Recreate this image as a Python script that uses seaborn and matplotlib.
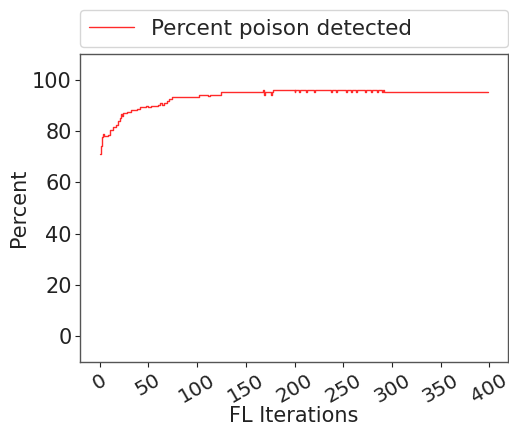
import matplotlib
matplotlib.use("Agg")
import matplotlib.pyplot as plt
import seaborn as sns
import pandas as pd

# Breakpoints of the step series (iteration, percent poison detected)
iterations = [0, 1, 2, 3, 4, 5, 9, 11, 14, 17, 19, 21, 22, 23, 24, 28, 32, 38, 41,
              48, 50, 53, 60, 62, 64, 66, 69, 71, 74, 102, 111, 113, 125,
              168, 169, 170, 176, 177, 178, 200, 201, 205, 206, 212, 213, 220, 221,
              237, 238, 243, 244, 253, 254, 258, 259, 263, 264, 272, 273, 278, 279,
              285, 286, 290, 291, 292, 399]
percent = [71, 74, 76.5, 77.8, 79, 78, 78.5, 80.5, 81.5, 82.5, 83.7, 85, 86.5, 85.8, 87,
           87.5, 88, 88.5, 89.2, 89.8, 89.3, 89.8, 90.3, 90.8, 90.3, 90.7, 91.5, 92.4, 93.2,
           94.1, 93.6, 94.1, 95.0,
           96.0, 94.2, 95.0, 94.2, 95.0, 96.0, 95.2, 96.0, 95.2, 96.0, 95.2, 96.0, 95.2, 96.0,
           95.2, 96.0, 95.2, 96.0, 95.2, 96.0, 95.2, 96.0, 95.2, 96.0, 95.2, 96.0, 95.2, 96.0,
           95.2, 96.0, 95.2, 96.0, 95.0, 95.0]
x_ticks = [0, 50, 100, 150, 200, 250, 300, 350, 400]
y_ticks = [0, 20, 40, 60, 80, 100]
series_label = "Percent poison detected"

df = pd.DataFrame({"FL Iterations": iterations, "Percent": percent})

sns.set_style("ticks")
plt.rcParams["font.family"] = ["DejaVu Sans"]

fig = plt.figure(figsize=(5.10, 4.28), dpi=100)
ax = fig.add_axes([0.157, 0.154, 0.839, 0.72])

sns.lineplot(data=df, x="FL Iterations", y="Percent", ax=ax, color="#ff2a2a",
             linewidth=1.0, drawstyle="steps-post", estimator=None,
             label=series_label)

ax.set_xlim(-20, 419)
ax.set_ylim(-10, 110)
ax.set_xticks(x_ticks)
ax.set_yticks(y_ticks)
ax.tick_params(axis="both", labelsize=15, colors="#222222", length=3.5, pad=2.5)
ax.tick_params(axis="x", labelsize=14.5)
plt.setp(ax.get_xticklabels(), rotation=30)
ax.set_xlabel("FL Iterations", fontsize=15, color="#222222", labelpad=0)
ax.set_ylabel("Percent", fontsize=15, color="#222222", labelpad=2)
for s in ax.spines.values():
    s.set_color("#555555")
    s.set_linewidth(1.0)

ax.legend(bbox_to_anchor=(0, 1.022, 1, 0.102), loc="lower left", mode="expand",
          borderaxespad=0, fontsize=15.5, frameon=True, handlelength=2.1)

fig.savefig("out.png", dpi=100)
